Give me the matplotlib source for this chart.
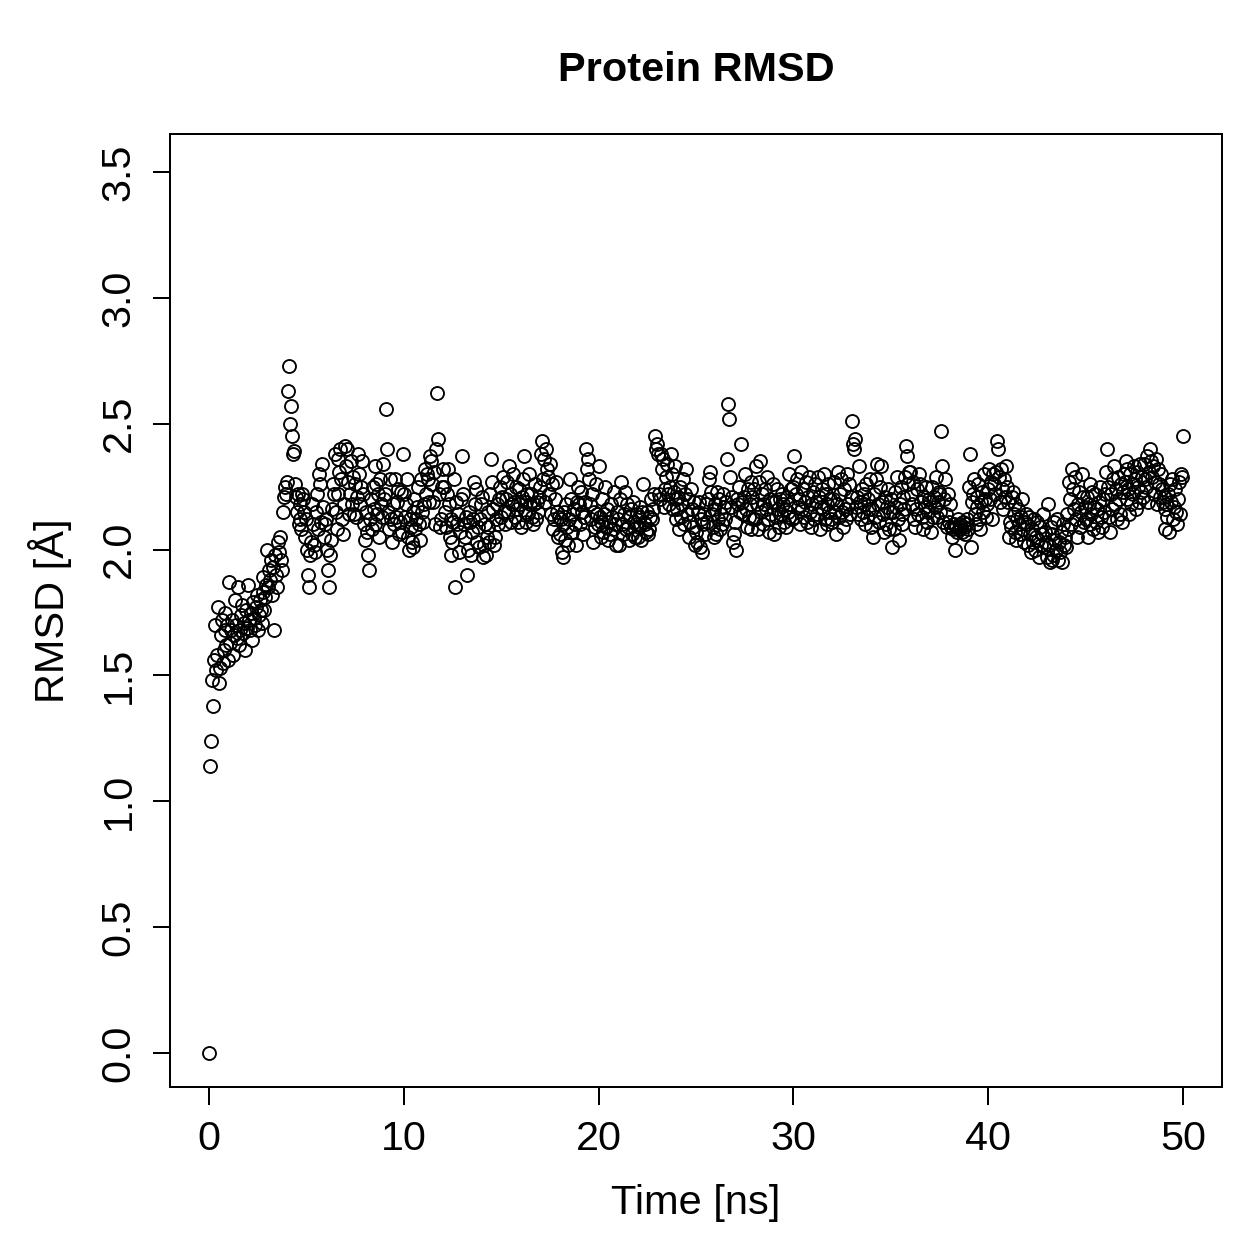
import numpy as np
import matplotlib
matplotlib.use("Agg")
import matplotlib.pyplot as plt

plt.rcParams["font.family"] = ["Liberation Sans", "DejaVu Sans"]

# RMSD values, in hundredths of an Angstrom, one frame every 0.05 ns
rmsd_0_10 = [
    0, 114, 124, 148, 138, 156, 170, 152, 158, 177, 147, 153, 166, 172, 155, 160, 168, 175, 162, 170,
    156, 187, 163, 168, 172, 158, 166, 180, 170, 165, 185, 162, 168, 174, 178, 167, 171, 160, 176, 169,
    186, 172, 168, 175, 164, 179, 173, 170, 177, 182, 168, 174, 180, 176, 171, 183, 189, 176, 181, 186,
    200, 185, 192, 188, 196, 182, 193, 168, 198, 190, 185, 203, 199, 205, 196, 192, 215, 221, 225, 222,
    227, 263, 273, 250, 257, 245, 238, 239, 226, 221, 215, 222, 210, 218, 212, 208, 222, 220, 215, 205,
    212, 200, 190, 185, 198, 203, 218, 210, 202, 199, 215, 222, 208, 230, 226, 211, 234, 217, 205, 210,
    212, 200, 192, 185, 198, 204, 216, 226, 222, 238, 215, 208, 236, 222, 231, 240, 228, 212, 206, 218,
    241, 233, 240, 227, 214, 222, 235, 218, 229, 214, 226, 213, 221, 238, 230, 218, 225, 235, 222, 210,
    204, 215, 207, 198, 192, 212, 220, 208, 225, 216, 233, 210, 226, 214, 222, 205, 228, 218, 213, 234,
    220, 222, 256, 240, 215, 208, 228, 212, 203, 218, 210, 228, 213, 219, 224, 206, 211, 223, 207, 238,
]
rmsd_10_20 = [
    222, 213, 218, 228, 205, 200, 212, 209, 203, 215, 201, 220, 208, 212, 217, 225, 210, 204, 228, 215,
    211, 218, 232, 222, 230, 228, 219, 237, 235, 226, 219, 231, 210, 240, 262, 244, 222, 209, 212, 225,
    232, 225, 215, 209, 222, 232, 218, 205, 212, 198, 203, 211, 228, 185, 219, 210, 214, 199, 207, 220,
    237, 222, 210, 205, 213, 190, 200, 215, 211, 198, 207, 212, 227, 218, 224, 203, 209, 201, 212, 218,
    221, 197, 202, 210, 198, 205, 215, 209, 203, 222, 236, 227, 216, 202, 205, 212, 218, 210, 220, 225,
    213, 221, 229, 215, 210, 220, 227, 215, 233, 222, 211, 218, 230, 219, 213, 225, 216, 211, 224, 218,
    209, 221, 228, 237, 215, 219, 211, 222, 214, 230, 218, 222, 213, 210, 218, 226, 212, 219, 215, 221,
    225, 238, 243, 228, 236, 219, 240, 232, 229, 222, 234, 214, 226, 208, 212, 220, 227, 215, 205, 213,
    206, 212, 199, 210, 197, 215, 204, 218, 209, 202, 212, 228, 220, 207, 214, 216, 210, 202, 219, 225,
    218, 210, 223, 215, 206, 213, 219, 240, 232, 236, 228, 218, 212, 222, 203, 215, 209, 226, 214, 210,
]
rmsd_20_30 = [
    233, 213, 205, 211, 220, 207, 214, 225, 209, 216, 204, 211, 206, 218, 213, 208, 223, 210, 202, 215,
    212, 202, 220, 227, 210, 206, 214, 223, 208, 218, 209, 204, 213, 216, 206, 219, 211, 205, 210, 214,
    205, 213, 209, 217, 204, 215, 226, 211, 210, 207, 215, 206, 208, 213, 220, 212, 216, 222, 245, 240,
    242, 238, 222, 220, 238, 232, 236, 217, 224, 229, 234, 222, 218, 225, 238, 230, 216, 223, 233, 212,
    220, 216, 221, 208, 225, 213, 218, 228, 210, 222, 232, 214, 220, 205, 211, 224, 216, 209, 219, 202,
    207, 203, 215, 219, 201, 212, 199, 210, 214, 206, 218, 211, 220, 228, 231, 223, 214, 209, 205, 216,
    218, 206, 223, 212, 220, 208, 214, 210, 222, 217, 212, 219, 236, 258, 252, 229, 217, 221, 203, 206,
    211, 200, 220, 218, 225, 215, 242, 219, 214, 221, 230, 216, 209, 224, 213, 218, 227, 208, 221, 212,
    224, 212, 233, 218, 208, 227, 235, 215, 222, 210, 218, 224, 216, 229, 212, 207, 220, 214, 219, 226,
    206, 219, 213, 224, 216, 209, 220, 214, 222, 218, 211, 216, 209, 221, 215, 213, 230, 218, 224, 212,
]
rmsd_30_40 = [
    225, 237, 213, 222, 228, 217, 220, 210, 231, 216, 224, 213, 219, 227, 211, 221, 229, 215, 209, 218,
    223, 212, 226, 219, 214, 229, 221, 208, 217, 224, 216, 230, 212, 222, 218, 210, 226, 215, 220, 212,
    211, 220, 227, 215, 206, 218, 231, 213, 222, 228, 215, 209, 224, 216, 212, 230, 218, 226, 214, 221,
    251, 242, 240, 244, 217, 221, 214, 233, 219, 212, 224, 215, 222, 218, 210, 226, 213, 220, 216, 228,
    209, 216, 205, 222, 213, 228, 234, 218, 211, 225, 233, 219, 214, 207, 221, 210, 217, 224, 208, 215,
    220, 201, 215, 208, 223, 217, 229, 212, 204, 218, 225, 214, 210, 221, 216, 229, 241, 237, 226, 231,
    231, 222, 218, 227, 212, 209, 216, 224, 214, 230, 226, 219, 213, 208, 221, 217, 225, 211, 215, 220,
    219, 207, 225, 213, 221, 217, 229, 213, 219, 222, 223, 215, 247, 233, 211, 220, 228, 214, 209, 222,
    211, 218, 209, 205, 208, 210, 200, 209, 207, 212, 208, 210, 209, 207, 211, 209, 206, 210, 212, 208,
    225, 238, 201, 219, 222, 228, 214, 210, 221, 217, 226, 212, 208, 219, 223, 215, 230, 220, 213, 218,
]
rmsd_40_50 = [
    224, 232, 220, 227, 212, 230, 226, 222, 231, 243, 240, 229, 219, 232, 224, 216, 228, 221, 233, 225,
    219, 205, 211, 209, 221, 223, 214, 218, 207, 204, 212, 216, 210, 206, 213, 220, 208, 203, 211, 214,
    210, 202, 213, 206, 199, 208, 203, 212, 200, 205, 211, 204, 197, 209, 202, 206, 214, 201, 207, 203,
    197, 218, 202, 195, 209, 196, 206, 198, 211, 204, 200, 212, 196, 203, 199, 207, 195, 210, 202, 205,
    201, 214, 208, 227, 220, 210, 232, 224, 216, 229, 212, 205, 218, 223, 209, 215, 230, 221, 211, 217,
    212, 221, 205, 218, 226, 210, 214, 223, 208, 217, 222, 211, 216, 207, 219, 225, 213, 209, 220, 215,
    222, 231, 240, 225, 213, 207, 222, 216, 228, 233, 218, 224, 212, 229, 220, 214, 226, 211, 223, 230,
    227, 235, 220, 232, 224, 214, 230, 218, 226, 222, 233, 228, 216, 231, 225, 219, 234, 223, 229, 221,
    234, 228, 225, 237, 219, 231, 240, 235, 229, 233, 222, 227, 236, 218, 232, 226, 221, 230, 224, 219,
    221, 216, 208, 218, 213, 222, 207, 226, 219, 228, 212, 217, 224, 215, 210, 220, 227, 214, 230, 229,
]
rmsd_last = [245]

x_ticks = [0, 10, 20, 30, 40, 50]
y_ticks = [0.0, 0.5, 1.0, 1.5, 2.0, 2.5, 3.0, 3.5]

time_step = 0.05  # ns between frames

rmsd = np.array(rmsd_0_10 + rmsd_10_20 + rmsd_20_30 + rmsd_30_40 + rmsd_40_50 + rmsd_last) / 100.0
time_ns = np.arange(len(rmsd)) * time_step

fig = plt.figure(figsize=(1259 / 180, 1259 / 180), dpi=180)
ax = fig.add_axes([0.135, 0.1366, 0.8356, 0.757])

ax.plot(time_ns, rmsd, linestyle="none", marker="o", markersize=5.2,
        markerfacecolor="none", markeredgecolor="black", markeredgewidth=0.75)

ax.set_xlim(-2, 52)
ax.set_ylim(-0.135, 3.651)
ax.set_xticks(x_ticks)
ax.set_xticklabels([str(t) for t in x_ticks])
ax.set_yticks(y_ticks)
ax.set_yticklabels([f"{v:.1f}" for v in y_ticks], rotation=90, va="center")

ax.tick_params(direction="out", length=7, width=0.8, labelsize=16.5, pad=6)
for spine in ax.spines.values():
    spine.set_linewidth(0.8)

ax.set_xlabel("Time [ns]", fontsize=16.6, va="center")
ax.xaxis.set_label_coords(0.5, -0.122)
ax.set_ylabel("RMSD [Å]", fontsize=16.6, va="center")
ax.yaxis.set_label_coords(-0.114, 0.5)
ax.set_title("Protein RMSD", fontsize=16.6, fontweight="bold", y=1.067, va="center", pad=0)

fig.savefig("out.png", dpi=180)
